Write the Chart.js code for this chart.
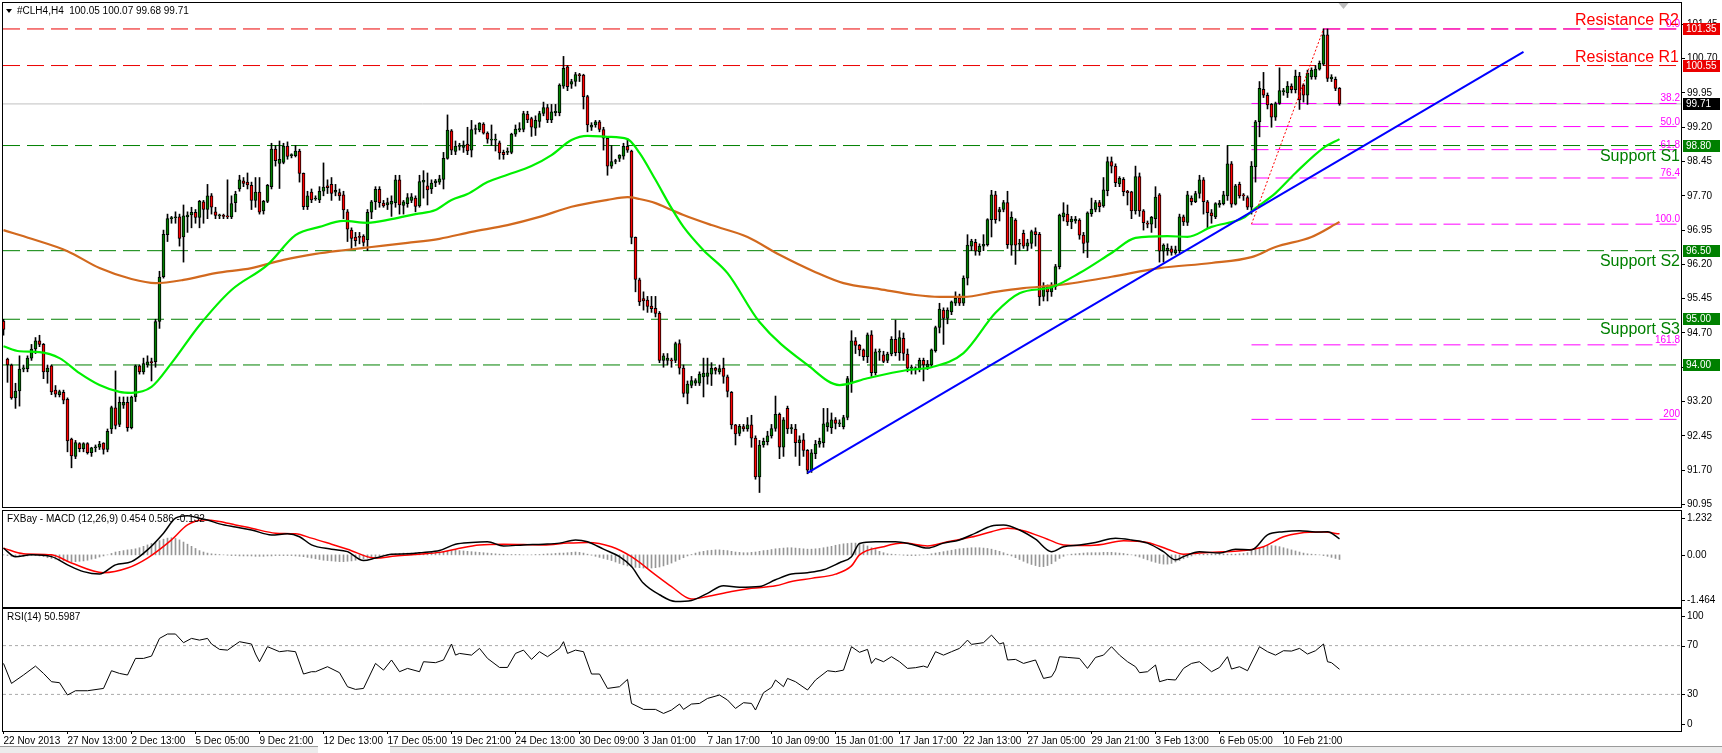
<!DOCTYPE html>
<html lang="en">
<head>
<meta charset="UTF-8">
<title>#CLH4,H4</title>
<script src="https://cdn.jsdelivr.net/npm/chart.js@4.4.0/dist/chart.umd.min.js"></script>
<style>
  html, body { margin: 0; padding: 0; background: #fff; }
  #wrap { position: relative; width: 1722px; height: 753px; overflow: hidden; background: #fff; }
  #wrap canvas { position: absolute; left: 0; }
  .strip { position: absolute; top: 746px; height: 7px; background: #ececec; border-top: 1px solid #9a9a9a; }
</style>
</head>
<body>
<div id="wrap">
  <canvas id="priceChart" style="top:0" width="1722" height="512"></canvas>
  <canvas id="macdChart" style="top:508px" width="1722" height="100"></canvas>
  <canvas id="rsiChart" style="top:608px" width="1722" height="145"></canvas>
  <div class="strip" style="left:0;width:318px"></div>
  <div class="strip" style="left:390px;width:1332px"></div>
</div>
<script>
// ---- H4 candles, bar 0 = 22 Nov 2013 ----
const opens = [
  94.96, 94.13, 94.00, 93.28, 93.43, 93.91, 93.92, 94.15, 94.35, 94.53,
  94.45, 93.85, 93.98, 93.45, 93.35, 93.40, 93.25, 92.38, 92.00, 92.28,
  92.17, 92.28, 92.08, 92.19, 92.20, 92.29, 92.15, 92.60, 93.06, 92.70,
  93.12, 93.18, 92.63, 93.30, 93.98, 93.85, 94.00, 94.07, 94.07, 94.95,
  95.93, 96.85, 97.20, 97.22, 97.24, 96.80, 97.24, 97.28, 97.34, 97.23,
  97.57, 97.40, 97.70, 97.35, 97.26, 97.27, 97.25, 97.24, 97.55, 97.85,
  98.03, 98.00, 97.93, 97.60, 97.78, 97.37, 97.58, 97.90, 98.72, 98.41,
  98.43, 98.79, 98.58, 98.58, 98.68, 98.19, 97.46, 97.78, 97.63, 97.61,
  97.80, 97.92, 97.95, 97.78, 97.77, 97.72, 97.35, 96.95, 96.80, 96.80,
  96.82, 96.74, 97.34, 97.57, 97.84, 97.54, 97.50, 97.52, 97.55, 98.05,
  97.49, 97.53, 97.60, 97.65, 97.48, 98.00, 97.92, 97.85, 97.98, 98.00,
  98.06, 98.52, 99.12, 98.67, 98.78, 98.76, 98.83, 98.70, 99.15, 99.14,
  99.27, 99.07, 98.92, 98.92, 98.86, 98.65, 98.65, 98.65, 99.05, 99.14,
  99.15, 99.49, 99.39, 99.18, 99.33, 99.50, 99.63, 99.36, 99.52, 99.52,
  100.10, 100.52, 100.14, 100.20, 100.34, 100.34, 99.87, 99.20, 99.25, 99.32,
  99.15, 98.96, 98.35, 98.45, 98.52, 98.57, 98.78, 98.68, 96.79, 95.86,
  95.45, 95.42, 95.29, 95.24, 95.13, 94.10, 94.10, 94.10, 94.10, 94.47,
  93.93, 93.38, 93.55, 93.60, 93.60, 93.74, 93.75, 93.80, 93.93, 93.85,
  93.93, 93.74, 93.40, 92.69, 92.50, 92.65, 92.60, 92.69, 92.40, 91.55,
  92.25, 92.32, 92.45, 92.61, 92.92, 92.20, 93.05, 92.60, 92.60, 92.30,
  92.36, 92.13, 91.70, 92.06, 92.27, 92.30, 92.65, 92.63, 92.80, 92.71,
  92.65, 92.85, 93.60, 94.53, 94.43, 94.33, 94.18, 94.66, 93.83, 94.28,
  94.22, 94.10, 94.24, 94.56, 94.27, 94.58, 94.24, 93.93, 93.91, 93.90,
  94.10, 93.95, 94.00, 94.31, 94.82, 95.20, 95.02, 95.16, 95.35, 95.47,
  95.35, 95.90, 96.60, 96.68, 96.48, 96.60, 96.63, 97.18, 97.72, 97.35,
  97.40, 97.55, 96.62, 97.17, 96.64, 96.88, 96.60, 96.66, 96.92, 96.86,
  95.50, 95.70, 95.60, 95.71, 96.15, 97.24, 97.30, 97.13, 97.15, 97.17,
  96.84, 96.68, 97.31, 97.40, 97.55, 97.48, 97.81, 98.45, 98.35, 97.96,
  98.06, 97.80, 97.79, 97.37, 98.12, 97.37, 97.10, 97.08, 97.20, 97.72,
  96.49, 96.50, 96.54, 96.45, 96.50, 97.24, 97.12, 97.65, 97.57, 97.75,
  98.05, 97.57, 97.33, 97.24, 97.50, 97.53, 97.70, 98.40, 97.52, 97.95,
  97.72, 97.66, 97.45, 98.34, 99.32, 100.03, 99.90, 99.70, 99.42, 99.72,
  99.98, 99.95, 100.10, 100.02, 100.32, 100.12, 99.90, 100.30, 100.30, 100.47,
  100.58, 101.22, 100.26, 100.25, 100.05
];
const highs = [
  95.00, 94.15, 94.02, 93.60, 94.20, 94.00, 94.20, 94.45, 94.60, 94.65,
  94.47, 94.00, 94.00, 93.55, 93.45, 93.45, 93.28, 92.40, 92.35, 92.30,
  92.30, 92.30, 92.20, 92.25, 92.33, 92.30, 92.60, 93.10, 93.87, 93.30,
  93.30, 93.30, 93.32, 94.00, 94.00, 94.15, 94.20, 94.15, 95.00, 96.05,
  96.95, 97.30, 97.25, 97.35, 97.30, 97.50, 97.35, 97.45, 97.40, 97.60,
  97.60, 97.95, 97.75, 97.45, 97.30, 97.30, 98.05, 97.70, 97.80, 98.15,
  98.10, 98.20, 98.00, 98.10, 98.10, 97.60, 97.95, 98.85, 98.80, 98.90,
  98.85, 98.88, 98.62, 98.80, 98.72, 98.20, 97.80, 97.85, 97.70, 97.90,
  98.42, 98.05, 98.10, 97.95, 97.85, 97.80, 97.40, 97.00, 96.90, 96.90,
  96.85, 97.40, 97.60, 97.90, 97.90, 97.60, 97.65, 97.70, 98.15, 98.15,
  97.60, 97.75, 97.75, 97.70, 98.15, 98.25, 98.20, 98.05, 98.06, 98.15,
  98.65, 99.47, 99.15, 98.90, 98.85, 98.90, 99.20, 99.35, 99.25, 99.30,
  99.30, 99.10, 99.25, 99.05, 98.90, 98.70, 98.75, 99.07, 99.25, 99.30,
  99.55, 99.55, 99.42, 99.45, 99.55, 99.75, 99.70, 99.70, 99.70, 100.15,
  100.75, 100.55, 100.25, 100.40, 100.38, 100.36, 99.90, 99.30, 99.35, 99.35,
  99.20, 99.00, 98.80, 98.50, 98.60, 98.85, 98.95, 98.70, 96.80, 95.90,
  95.60, 95.50, 95.50, 95.50, 95.17, 94.25, 94.25, 94.15, 94.50, 94.55,
  94.00, 93.65, 93.75, 93.70, 93.85, 94.15, 94.15, 94.05, 93.95, 94.00,
  94.15, 93.78, 93.42, 92.70, 92.70, 92.70, 92.85, 92.90, 92.45, 92.35,
  92.40, 92.55, 92.70, 93.32, 92.95, 92.85, 93.10, 92.70, 92.70, 92.45,
  92.50, 92.15, 92.15, 92.35, 92.40, 93.05, 93.05, 92.95, 92.85, 92.80,
  92.90, 93.75, 94.75, 94.60, 94.45, 94.35, 94.70, 94.75, 94.35, 94.35,
  94.30, 94.28, 94.62, 94.98, 94.75, 94.70, 94.35, 94.00, 93.96, 94.15,
  94.15, 94.10, 94.35, 94.85, 95.35, 95.25, 95.25, 95.40, 95.60, 95.55,
  95.95, 96.85, 96.75, 96.75, 96.65, 96.85, 97.20, 97.82, 97.80, 97.45,
  97.60, 97.80, 97.35, 97.20, 96.75, 96.95, 96.75, 96.95, 97.00, 96.90,
  95.80, 95.75, 95.80, 96.20, 97.30, 97.55, 97.50, 97.25, 97.25, 97.20,
  96.90, 97.35, 97.65, 97.60, 97.60, 98.10, 98.55, 98.55, 98.40, 98.12,
  98.10, 97.82, 97.80, 98.35, 98.20, 97.40, 97.15, 97.25, 97.90, 97.75,
  96.65, 96.65, 96.60, 96.60, 97.30, 97.28, 97.80, 97.70, 97.80, 98.15,
  98.10, 97.60, 97.40, 97.55, 97.60, 97.80, 98.80, 98.45, 97.95, 98.00,
  97.75, 97.70, 98.45, 99.35, 100.20, 100.40, 99.95, 99.72, 99.75, 100.50,
  100.05, 100.20, 100.15, 100.45, 100.40, 100.15, 100.45, 100.50, 100.55, 100.65,
  101.35, 101.35, 100.35, 100.30, 100.07
];
const lows = [
  94.65, 93.62, 93.25, 93.05, 93.10, 93.85, 93.85, 94.10, 94.25, 94.40,
  93.70, 93.60, 93.35, 93.30, 93.30, 93.15, 92.10, 91.75, 91.95, 92.10,
  92.10, 92.05, 92.00, 92.10, 92.15, 92.05, 92.10, 92.50, 92.60, 92.65,
  93.05, 92.55, 92.60, 93.20, 93.80, 93.80, 93.95, 93.65, 93.95, 94.80,
  95.90, 96.70, 97.10, 97.10, 96.60, 96.25, 96.90, 97.00, 97.10, 97.00,
  97.10, 97.20, 97.30, 97.20, 97.20, 97.20, 97.20, 97.20, 97.35, 97.80,
  97.90, 97.85, 97.40, 97.45, 97.30, 97.30, 97.55, 97.85, 98.35, 97.86,
  98.40, 98.50, 98.53, 98.55, 98.00, 97.40, 97.40, 97.55, 97.60, 97.55,
  97.70, 97.75, 97.60, 97.70, 97.60, 97.20, 96.70, 96.53, 96.60, 96.65,
  96.60, 96.50, 97.20, 97.40, 97.45, 97.45, 97.40, 97.25, 97.45, 97.30,
  97.30, 97.45, 97.55, 97.35, 97.45, 97.65, 97.50, 97.75, 97.90, 97.95,
  97.85, 98.50, 98.60, 98.60, 98.70, 98.65, 98.60, 98.55, 99.05, 99.10,
  99.05, 98.85, 98.80, 98.68, 98.50, 98.50, 98.60, 98.62, 99.00, 99.10,
  99.10, 99.30, 99.00, 99.02, 99.20, 99.45, 99.30, 99.30, 99.45, 99.45,
  100.05, 100.00, 100.05, 100.10, 100.20, 99.60, 99.10, 99.13, 99.20, 99.10,
  98.70, 98.15, 98.30, 98.40, 98.45, 98.50, 98.65, 96.65, 95.60, 95.30,
  95.20, 95.15, 95.15, 95.05, 94.05, 93.95, 94.00, 93.95, 94.05, 93.80,
  93.30, 93.15, 93.50, 93.55, 93.55, 93.30, 93.58, 93.55, 93.80, 93.80,
  93.60, 93.30, 92.60, 92.25, 92.45, 92.55, 92.55, 92.20, 91.50, 91.21,
  92.20, 92.25, 92.40, 92.55, 91.95, 92.00, 92.50, 92.50, 92.00, 91.80,
  92.00, 91.62, 91.65, 91.95, 92.20, 92.20, 92.55, 92.50, 92.60, 92.65,
  92.60, 92.80, 93.40, 94.25, 94.20, 94.10, 94.05, 93.75, 93.78, 94.10,
  94.05, 94.05, 94.20, 94.20, 94.10, 94.10, 93.85, 93.80, 93.80, 93.85,
  93.65, 93.90, 93.95, 94.28, 94.70, 94.45, 94.90, 95.10, 95.30, 95.30,
  95.30, 95.75, 96.50, 96.40, 96.40, 96.50, 96.60, 96.80, 97.10, 97.15,
  97.35, 96.55, 96.40, 96.20, 96.50, 96.55, 96.50, 96.55, 96.60, 95.30,
  95.40, 95.40, 95.50, 95.65, 96.10, 97.15, 97.05, 96.98, 97.10, 96.75,
  96.45, 96.35, 97.25, 97.35, 97.35, 97.45, 97.70, 98.20, 97.90, 97.90,
  97.70, 97.50, 97.20, 97.30, 97.25, 96.95, 97.00, 96.90, 97.00, 96.25,
  96.25, 96.40, 96.40, 96.42, 96.45, 97.05, 97.05, 97.50, 97.55, 97.65,
  97.30, 97.00, 97.10, 97.20, 97.45, 97.50, 97.60, 97.45, 97.50, 97.65,
  97.60, 97.40, 97.30, 98.00, 98.99, 99.85, 99.60, 99.20, 99.35, 99.70,
  99.90, 99.85, 99.95, 99.95, 99.59, 99.75, 99.70, 100.25, 100.25, 100.45,
  100.55, 100.20, 100.20, 100.00, 99.68
];
const closes = [
  94.78, 94.00, 93.28, 93.43, 93.91, 93.94, 94.15, 94.35, 94.53, 94.45,
  93.85, 93.93, 93.41, 93.36, 93.42, 93.23, 92.34, 92.01, 92.30, 92.17,
  92.28, 92.08, 92.19, 92.20, 92.27, 92.15, 92.55, 93.07, 92.68, 93.18,
  93.18, 92.63, 93.30, 93.98, 93.85, 94.03, 94.07, 94.05, 94.95, 95.92,
  96.86, 97.20, 97.22, 97.23, 96.77, 97.26, 97.28, 97.34, 97.23, 97.58,
  97.40, 97.70, 97.45, 97.27, 97.28, 97.25, 97.24, 97.53, 97.74, 98.05,
  97.97, 97.94, 97.60, 97.78, 97.34, 97.58, 97.93, 98.72, 98.47, 98.50,
  98.79, 98.56, 98.58, 98.68, 98.19, 97.46, 97.70, 97.61, 97.65, 97.80,
  97.89, 97.88, 97.75, 97.82, 97.70, 97.39, 96.97, 96.77, 96.72, 96.79,
  96.68, 97.34, 97.57, 97.84, 97.55, 97.48, 97.55, 97.58, 98.05, 97.50,
  97.57, 97.66, 97.68, 97.47, 98.01, 98.04, 97.83, 97.98, 98.03, 98.07,
  98.52, 99.14, 98.70, 98.79, 98.78, 98.81, 98.68, 99.15, 99.16, 99.29,
  99.07, 98.94, 98.93, 98.94, 98.64, 98.60, 98.66, 99.05, 99.16, 99.17,
  99.50, 99.36, 99.20, 99.35, 99.50, 99.63, 99.36, 99.54, 99.55, 100.12,
  100.49, 100.09, 100.20, 100.35, 100.33, 99.87, 99.25, 99.25, 99.32, 99.15,
  98.96, 98.35, 98.45, 98.46, 98.59, 98.78, 98.70, 96.79, 95.87, 95.38,
  95.40, 95.28, 95.23, 95.13, 94.10, 94.20, 94.15, 94.09, 94.47, 93.93,
  93.38, 93.58, 93.66, 93.66, 93.80, 93.82, 93.83, 93.93, 93.88, 93.92,
  93.75, 93.42, 92.69, 92.49, 92.66, 92.60, 92.69, 92.40, 91.55, 92.25,
  92.33, 92.45, 92.61, 92.92, 92.20, 92.80, 92.60, 92.63, 92.30, 92.36,
  92.13, 91.70, 92.08, 92.27, 92.33, 92.71, 92.74, 92.80, 92.72, 92.72,
  92.85, 93.70, 94.53, 94.43, 94.33, 94.18, 94.66, 93.83, 94.29, 94.30,
  94.08, 94.24, 94.56, 94.27, 94.60, 94.25, 93.93, 93.94, 93.94, 94.10,
  94.00, 94.02, 94.33, 94.82, 95.22, 95.02, 95.20, 95.38, 95.46, 95.35,
  95.90, 96.62, 96.71, 96.49, 96.60, 96.64, 97.18, 97.72, 97.18, 97.40,
  97.55, 96.63, 97.23, 96.62, 96.66, 96.60, 96.67, 96.92, 96.85, 95.49,
  95.71, 95.60, 95.75, 96.15, 97.28, 97.33, 97.13, 97.19, 97.19, 96.84,
  96.66, 97.33, 97.41, 97.55, 97.46, 97.83, 98.45, 98.35, 97.99, 98.08,
  97.79, 97.77, 97.37, 98.12, 97.37, 97.11, 97.08, 97.23, 97.67, 96.49,
  96.62, 96.55, 96.46, 96.52, 97.24, 97.13, 97.72, 97.57, 97.75, 98.05,
  97.57, 97.33, 97.26, 97.53, 97.54, 97.72, 98.40, 97.52, 97.92, 97.70,
  97.70, 97.45, 98.35, 99.32, 100.05, 99.90, 99.69, 99.42, 99.72, 100.00,
  99.99, 100.10, 100.02, 100.32, 99.80, 99.90, 100.38, 100.45, 100.47, 100.60,
  101.22, 100.27, 100.30, 100.05, 99.71
];

// ---- moving averages (bar index, value) ----
const maFastBars = [0, 4, 9, 14, 19, 24, 29, 32, 37, 42, 49, 57, 66, 73, 79, 85, 91, 97, 103, 108,
  112, 116, 121, 126, 132, 137, 142, 146, 151, 156, 159, 163, 167, 170, 175, 181, 189, 201, 209, 216,
  226, 232, 240, 248, 254, 262, 269, 277, 283, 291, 296, 302, 310, 313, 318, 323, 330, 334];
const maFastVals = [94.41, 94.30, 94.28, 94.15, 93.82, 93.56, 93.41, 93.39, 93.52, 94.04, 94.87, 95.64, 96.19, 96.84, 97.02, 97.15, 97.11, 97.19, 97.30, 97.39,
  97.61, 97.74, 98.00, 98.16, 98.35, 98.59, 98.92, 99.01, 98.99, 98.94, 98.64, 98.05, 97.43, 97.02, 96.51, 96.01, 94.94, 94.00, 93.56, 93.71,
  93.89, 93.95, 94.26, 95.14, 95.57, 95.70, 96.01, 96.45, 96.78, 96.82, 96.80, 97.02, 97.22, 97.43, 97.76, 98.20, 98.75, 98.94];
const maSlowBars = [0, 7, 16, 24, 32, 38, 45, 53, 62, 70, 78, 85, 92, 101, 109, 117, 126, 134, 142, 151,
  156, 159, 163, 167, 170, 177, 186, 194, 203, 210, 219, 228, 234, 240, 248, 255, 264, 277, 289, 302,
  312, 318, 327, 334];
const maSlowVals = [96.95, 96.76, 96.49, 96.12, 95.88, 95.79, 95.86, 96.01, 96.12, 96.30, 96.43, 96.51, 96.58, 96.67, 96.76, 96.91, 97.06, 97.24, 97.46, 97.61,
  97.67, 97.63, 97.54, 97.39, 97.28, 97.06, 96.80, 96.41, 96.03, 95.79, 95.66, 95.53, 95.49, 95.49, 95.60, 95.68, 95.75, 95.93, 96.12, 96.23,
  96.36, 96.58, 96.80, 97.13];

// ---- drawn objects ----
const resistLevels = [101.35, 100.55];
const resistNames = ['Resistance R2', 'Resistance R1'];
const supportLevels = [98.80, 96.50, 95.00, 94.00];
const supportNames = ['Support S1', 'Support S2', 'Support S3', ''];
const fibStartBar = 312;
const fibLevels = [101.35, 99.72, 99.215, 98.71, 98.09, 97.08, 94.44, 92.81];
const fibNames = ['0.0', '38.2', '50.0', '61.8', '76.4', '100.0', '161.8', '200'];
const trendBars = [201, 380];
const trendVals = [91.64, 100.85];
const fibTrendBars = [312, 330];
const fibTrendVals = [97.08, 101.35];

// ---- MACD (12,26,9) ----
const macdBars = [0, 3, 7, 12, 16, 20, 24, 28, 32, 36, 40, 43, 46, 49, 51, 54, 58, 62, 67, 71,
  74, 77, 82, 86, 90, 93, 97, 101, 105, 109, 113, 117, 121, 125, 130, 135, 139, 143, 146, 150,
  154, 157, 160, 164, 168, 172, 176, 180, 184, 189, 193, 197, 201, 205, 209, 212, 214, 218, 223, 227,
  231, 235, 239, 243, 247, 250, 254, 258, 262, 265, 269, 273, 278, 282, 286, 290, 293, 295, 299, 304,
  308, 312, 316, 320, 324, 328, 331, 334];
const macdVals = [0.19, -0.05, 0.0, -0.05, -0.28, -0.47, -0.54, -0.28, -0.19, 0.14, 0.61, 1.03, 1.10, 1.03, 0.98, 0.87, 0.78, 0.70, 0.56, 0.59,
  0.51, 0.28, 0.16, 0.09, -0.16, -0.09, 0.02, 0.03, 0.07, 0.12, 0.30, 0.35, 0.37, 0.25, 0.28, 0.30, 0.33, 0.42, 0.37, 0.16,
  -0.05, -0.33, -0.80, -1.12, -1.31, -1.28, -1.08, -0.87, -0.91, -0.89, -0.70, -0.54, -0.50, -0.42, -0.22, -0.05, 0.32, 0.37, 0.37, 0.30,
  0.19, 0.33, 0.42, 0.61, 0.81, 0.84, 0.70, 0.44, 0.09, 0.23, 0.28, 0.35, 0.47, 0.42, 0.33, 0.09, -0.14, -0.05, 0.09, 0.05,
  0.16, 0.14, 0.56, 0.65, 0.68, 0.64, 0.65, 0.45];
const signalBars = [0, 5, 12, 17, 25, 31, 36, 42, 46, 50, 54, 58, 62, 68, 73, 77, 82, 86, 93, 98,
  104, 109, 113, 119, 125, 135, 141, 146, 152, 157, 163, 167, 172, 176, 182, 187, 193, 197, 202, 208,
  212, 214, 220, 225, 231, 236, 242, 247, 251, 255, 261, 265, 271, 275, 280, 286, 291, 295, 299, 305,
  310, 315, 320, 324, 330, 334];
const signalVals = [0.19, 0.03, 0.0, -0.23, -0.50, -0.37, -0.09, 0.42, 0.84, 0.98, 0.94, 0.84, 0.75, 0.61, 0.59, 0.47, 0.30, 0.16, -0.09, -0.03,
  0.02, 0.07, 0.16, 0.28, 0.30, 0.28, 0.33, 0.35, 0.23, -0.05, -0.56, -0.89, -1.24, -1.17, -1.03, -0.94, -0.87, -0.75, -0.66, -0.54,
  -0.31, 0.0, 0.23, 0.33, 0.25, 0.37, 0.50, 0.65, 0.75, 0.68, 0.44, 0.28, 0.26, 0.30, 0.40, 0.35, 0.16, 0.02, 0.05, 0.09,
  0.12, 0.23, 0.51, 0.61, 0.64, 0.59];
const histVals = [
  0, -0.02, -0.04, -0.05, -0.05, -0.04, -0.03, -0.02, -0.02, -0.03, -0.05, -0.08, -0.1,
  -0.12, -0.14, -0.16, -0.18, -0.19, -0.19, -0.18, -0.17, -0.15, -0.12, -0.1, -0.06, -0.03, 0.0, 0.04,
  0.08, 0.1, 0.12, 0.14, 0.15, 0.17, 0.2, 0.24, 0.28, 0.32, 0.36, 0.4, 0.44, 0.47, 0.48, 0.46, 0.42, 0.36, 0.3,
  0.24, 0.18, 0.12, 0.08, 0.05, 0.03, 0.02, 0.01, 0.0,
  -0.01, -0.02, -0.02, -0.03, -0.03, -0.03, -0.03, -0.04, -0.04, -0.04, -0.03, -0.03, -0.02, -0.02, -0.02, -0.02, -0.02, -0.03, -0.04, -0.05, -0.07,
  -0.09, -0.11, -0.13, -0.15, -0.16, -0.17, -0.18, -0.19, -0.19, -0.18, -0.17, -0.15, -0.13, -0.11, -0.09, -0.07, -0.05,
  -0.03, -0.01, 0.01, 0.02, 0.03, 0.04, 0.05, 0.05, 0.05, 0.06, 0.06, 0.06, 0.07, 0.07, 0.08, 0.08, 0.09, 0.1, 0.12,
  0.13, 0.12, 0.11, 0.1, 0.09, 0.08, 0.07, 0.06, 0.05, 0.04, 0.03, 0.02, 0.02, 0.01, 0.01, 0.01, 0.01, 0.0, 0.0, 0.0, 0.01, 0.01, 0.02, 0.03, 0.03, 0.04, 0.05, 0.05, 0.06, 0.07, 0.08,
  0.07, 0.05, 0.02, -0.01, -0.04, -0.07, -0.1,
  -0.13, -0.16, -0.2, -0.24, -0.28, -0.31, -0.33, -0.35, -0.36, -0.37, -0.37, -0.37, -0.36, -0.34, -0.31, -0.27, -0.23, -0.18, -0.13, -0.08, -0.03, 0.01, 0.05,
  0.08, 0.1, 0.12, 0.13, 0.14, 0.14, 0.13, 0.12, 0.1, 0.08, 0.07, 0.06, 0.06, 0.07, 0.08, 0.1, 0.12, 0.13,
  0.15, 0.17, 0.18, 0.19, 0.2, 0.2, 0.19, 0.18, 0.17, 0.16, 0.16, 0.17, 0.18, 0.2, 0.22, 0.24, 0.27, 0.29, 0.31, 0.32, 0.33, 0.33,
  0.32, 0.29, 0.25, 0.2, 0.15, 0.1, 0.06, 0.03, 0.02,
  0.01, 0.0, -0.01, -0.02, -0.02, -0.02, -0.01, 0.0, 0.01, 0.03,
  0.05, 0.07, 0.09, 0.11, 0.13, 0.15, 0.17, 0.18, 0.19, 0.2, 0.2, 0.2, 0.19, 0.18, 0.16, 0.13, 0.1, 0.06, 0.02,
  -0.03, -0.08, -0.13, -0.18, -0.23, -0.27, -0.3, -0.33, -0.33, -0.3, -0.25, -0.18, -0.1,
  -0.04, 0.0, 0.02, 0.03, 0.04, 0.05, 0.06, 0.06, 0.06, 0.06, 0.07, 0.07, 0.07, 0.06, 0.05, 0.04, 0.02,
  0.0, -0.03, -0.06, -0.1, -0.14, -0.18, -0.21, -0.24, -0.26, -0.26, -0.24, -0.2, -0.16, -0.11, -0.07, -0.03,
  0.0, 0.01, 0.02, 0.02, 0.03, 0.03, 0.03, 0.03, 0.02, 0.02, 0.02, 0.03, 0.04,
  0.06, 0.1, 0.15, 0.2, 0.24, 0.26, 0.26, 0.25, 0.23, 0.2, 0.17, 0.14, 0.11, 0.08,
  0.05, 0.03, 0.02, 0.01, 0.0,
  -0.02, -0.04, -0.07, -0.1, -0.13
];

// ---- RSI(14) ----
const rsiBars = [0, 2, 5, 8, 10, 12, 14, 16, 18, 21, 25, 27, 29, 31, 33, 35, 37, 39, 41, 43,
  45, 47, 49, 51, 52, 54, 56, 59, 62, 63, 64, 66, 69, 71, 73, 75, 77, 78, 81, 84,
  86, 88, 90, 93, 95, 97, 99, 101, 104, 105, 108, 110, 112, 113, 114, 117, 119, 121, 124, 126,
  128, 130, 132, 134, 136, 139, 140, 141, 143, 145, 147, 149, 151, 154, 156, 157, 160, 163, 165, 167,
  169, 170, 172, 174, 176, 179, 181, 183, 185, 187, 188, 190, 192, 193, 195, 196, 198, 201, 203, 206,
  208, 210, 212, 214, 216, 217, 218, 220, 222, 224, 226, 228, 230, 231, 233, 235, 237, 239, 241, 242,
  245, 247, 249, 250, 251, 253, 255, 258, 260, 262, 263, 264, 266, 269, 271, 273, 275, 277, 279, 281,
  283, 284, 286, 288, 289, 291, 293, 295, 297, 299, 302, 304, 306, 307, 309, 311, 314, 316, 318, 320,
  322, 324, 326, 328, 330, 331, 332, 334];
const rsiVals = [55.4, 39.0, 45.9, 53.2, 47.2, 40.4, 39.6, 29.5, 33.0, 33.0, 34.9, 49.4, 47.2, 45.9, 59.5, 59.5, 61.4, 75.9, 79.5, 79.5,
  72.4, 75.9, 74.5, 75.9, 71.3, 66.9, 66.3, 73.2, 71.3, 63.1, 56.8, 69.1, 65.0, 65.8, 65.0, 46.7, 48.6, 48.6, 52.7, 47.8,
  36.3, 34.1, 34.9, 55.4, 49.9, 58.2, 48.6, 51.3, 48.6, 56.8, 56.0, 58.2, 71.3, 62.2, 63.6, 62.2, 67.7, 59.5, 52.1, 52.1,
  63.6, 66.3, 58.7, 65.0, 60.9, 67.7, 73.2, 63.6, 66.3, 65.0, 46.7, 46.7, 34.9, 36.3, 42.3, 22.6, 17.7, 17.7, 14.4, 17.2,
  22.1, 17.7, 22.1, 22.6, 26.7, 29.5, 25.4, 18.5, 23.2, 22.6, 17.2, 31.4, 35.7, 41.8, 36.3, 43.1, 40.4, 33.6, 41.8, 49.4,
  48.6, 49.9, 69.1, 64.5, 66.9, 55.4, 59.5, 56.8, 60.9, 56.8, 51.3, 51.9, 53.2, 52.1, 65.0, 62.2, 65.0, 67.7, 74.5, 71.0,
  72.4, 78.6, 71.3, 72.4, 58.2, 58.7, 55.4, 58.2, 43.1, 44.5, 49.9, 60.9, 60.3, 59.5, 51.3, 60.3, 62.2, 69.1, 62.2, 56.8,
  52.7, 47.8, 48.6, 54.1, 40.4, 42.3, 41.8, 51.3, 55.4, 56.8, 48.6, 52.1, 60.9, 50.8, 52.7, 49.4, 69.1, 65.0, 62.2, 65.8,
  65.5, 67.7, 63.1, 65.8, 71.3, 56.8, 56.0, 50.6];
const rsiLevels = [70, 30];

// ---- axes ----
const priceTicks = [101.45, 100.70, 99.95, 99.20, 98.45, 97.70, 96.95, 96.20, 95.45, 94.70, 93.95, 93.20, 92.45, 91.70, 90.95];
const priceMin = 90.893, priceMax = 101.918;
const macdMin = -1.464, macdMax = 1.232;
const tickBars = [0, 16, 32, 48, 64, 80, 96, 112, 128, 144, 160, 176, 192, 208, 224, 240, 256, 272, 288, 304, 320];
const tickLabels = ['22 Nov 2013', '27 Nov 13:00', '2 Dec 13:00', '5 Dec 05:00', '9 Dec 21:00', '12 Dec 13:00', '17 Dec 05:00',
  '19 Dec 21:00', '24 Dec 13:00', '30 Dec 09:00', '3 Jan 01:00', '7 Jan 17:00', '10 Jan 09:00', '15 Jan 01:00',
  '17 Jan 17:00', '22 Jan 13:00', '27 Jan 05:00', '29 Jan 21:00', '3 Feb 13:00', '6 Feb 05:00', '10 Feb 21:00'];

const xMin = -0.125, xMax = 419.375;
const FONT = '"Liberation Sans", Arial, sans-serif';
const UP = 'rgb(0,128,0)', DOWN = 'rgb(255,0,0)';
const RES = 'rgb(235,0,0)', SUP = 'rgb(0,128,0)', FIB = 'rgb(255,0,255)';

Chart.defaults.font.family = FONT;
Chart.defaults.font.size = 10;
Chart.defaults.color = '#000';

function hLine(v, x0, color, dash, order) {
  return { type: 'line', data: [{ x: x0, y: v }, { x: xMax, y: v }], borderColor: color, borderWidth: 1,
    borderDash: dash, pointRadius: 0, order: order };
}
function pairLine(bars, vals, color, width, extra) {
  return Object.assign({ type: 'line', data: bars.map((b, i) => ({ x: b, y: vals[i] })), borderColor: color,
    borderWidth: width, pointRadius: 0 }, extra || {});
}
function xScale(display) {
  return { type: 'linear', min: xMin, max: xMax, offset: false, display: display };
}
function sideAxis(min, max) {
  return { type: 'linear', position: 'right', min: min, max: max, ticks: { display: false }, grid: { display: false },
    border: { display: false }, afterFit: s => { s.width = 41; s.paddingTop = 0; s.paddingBottom = 0; } };
}

// frame, title and axis captions of each window
const panelPlugin = {
  id: 'panel',
  afterDraw(chart, args, opts) {
    const { ctx, chartArea: a } = chart;
    const y = chart.scales.y;
    ctx.save();
    ctx.strokeStyle = '#000';
    ctx.lineWidth = 1;
    ctx.strokeRect(a.left - 0.5, a.top - 0.5, a.right - a.left + 1, a.bottom - a.top + 1);
    ctx.fillStyle = '#000';
    ctx.font = '10px ' + FONT;
    ctx.textBaseline = 'middle';
    ctx.textAlign = 'left';
    if (opts.title) ctx.fillText(opts.title, a.left + opts.titleX, a.top + 8);
    (opts.axisValues || []).forEach((v, i) => {
      let py = y.getPixelForValue(v);
      py = Math.min(Math.max(py, a.top + 7), a.bottom - 7);
      ctx.fillRect(a.right, Math.round(py), 4, 1);
      ctx.fillText(opts.axisLabels[i], a.right + 6, py);
    });
    ctx.restore();
  }
};

// captions of levels, fibo numbers and price tags
const levelPlugin = {
  id: 'levels',
  afterDraw(chart) {
    const { ctx, chartArea: a, scales: { x, y } } = chart;
    ctx.save();
    // symbol header
    ctx.fillStyle = '#000';
    ctx.beginPath(); ctx.moveTo(6, 9); ctx.lineTo(12, 9); ctx.lineTo(9, 13); ctx.closePath(); ctx.fill();
    // chart shift marker
    const sx = x.getPixelForValue(opens.length);
    ctx.fillStyle = 'rgb(190,190,190)';
    ctx.beginPath(); ctx.moveTo(sx - 5, a.top); ctx.lineTo(sx + 5, a.top); ctx.lineTo(sx, a.top + 6); ctx.closePath(); ctx.fill();

    ctx.textAlign = 'right';
    ctx.font = '10px ' + FONT;
    ctx.fillStyle = FIB;
    ctx.textBaseline = 'alphabetic';
    fibLevels.forEach((v, i) => ctx.fillText(fibNames[i], a.right - 1, y.getPixelForValue(v) - 2));

    ctx.font = '16px ' + FONT;
    ctx.fillStyle = 'rgb(255,0,0)';
    resistLevels.forEach((v, i) => ctx.fillText(resistNames[i], a.right - 2, y.getPixelForValue(v) - 4));
    ctx.fillStyle = 'rgb(0,128,0)';
    supportLevels.forEach((v, i) => ctx.fillText(supportNames[i], a.right - 1, y.getPixelForValue(v) + 15));

    // price tags on the axis
    const tags = resistLevels.map(v => [v, 'rgb(235,0,0)'])
      .concat([[closes[closes.length - 1], '#000']])
      .concat(supportLevels.map(v => [v, 'rgb(0,128,0)']));
    ctx.font = '10px ' + FONT;
    ctx.textAlign = 'left';
    ctx.textBaseline = 'middle';
    tags.forEach(([v, c]) => {
      const py = Math.round(y.getPixelForValue(v));
      ctx.fillStyle = c;
      ctx.fillRect(a.right + 2, py - 6, 37, 12);
      ctx.fillStyle = '#fff';
      ctx.fillText(v.toFixed(2), a.right + 5, py);
    });
    ctx.restore();
  }
};

const idx = opens.map((o, i) => i);
const priceDatasets = [];
resistLevels.forEach(v => priceDatasets.push(hLine(v, xMin, RES, [17, 7], 10)));
supportLevels.forEach(v => priceDatasets.push(hLine(v, xMin, SUP, [17, 7], 10)));
priceDatasets.push(hLine(closes[closes.length - 1], xMin, 'rgb(192,192,192)', [], 11));
fibLevels.forEach(v => priceDatasets.push(hLine(v, fibStartBar, FIB, [17, 7], 9)));
priceDatasets.push({
  type: 'bar', data: idx.map(i => ({ x: i, y: [lows[i], highs[i]] })), backgroundColor: '#000',
  barThickness: 1, grouped: false, order: 7
});
priceDatasets.push({
  type: 'bar', data: idx.map(i => ({ x: i, y: [opens[i], closes[i]] })),
  backgroundColor: idx.map(i => closes[i] >= opens[i] ? UP : DOWN),
  borderColor: '#000', borderWidth: 1, borderSkipped: false, barThickness: 3, minBarLength: 1,
  grouped: false, order: 6
});
priceDatasets.push(pairLine(maSlowBars, maSlowVals, 'rgb(210,105,30)', 2.2, { order: 4, cubicInterpolationMode: 'monotone' }));
priceDatasets.push(pairLine(maFastBars, maFastVals, 'rgb(0,240,0)', 2.2, { order: 3, cubicInterpolationMode: 'monotone' }));
priceDatasets.push(pairLine(trendBars, trendVals, 'rgb(0,0,255)', 2, { order: 2 }));
priceDatasets.push(pairLine(fibTrendBars, fibTrendVals, 'rgb(255,0,0)', 1, { order: 1, borderDash: [2, 2] }));

new Chart(document.getElementById('priceChart'), {
  type: 'bar',
  data: { datasets: priceDatasets },
  plugins: [panelPlugin, levelPlugin],
  options: {
    responsive: false, animation: false, events: [],
    layout: { padding: { left: 3, top: 3, right: 0, bottom: 5 } },
    plugins: {
      legend: { display: false }, tooltip: { enabled: false },
      panel: { title: '#CLH4,H4  100.05 100.07 99.68 99.71', titleX: 14 }
    },
    scales: {
      x: xScale(false),
      y: {
        type: 'linear', position: 'right', min: priceMin, max: priceMax,
        afterBuildTicks: s => { s.ticks = priceTicks.map(v => ({ value: v })); },
        afterFit: s => { s.width = 41; s.paddingTop = 0; s.paddingBottom = 0; },
        ticks: { color: '#000', padding: 2, font: { size: 10 }, callback: v => v.toFixed(2) },
        grid: { drawOnChartArea: false, drawTicks: true, tickLength: 4, color: '#000' },
        border: { display: false }
      }
    }
  }
});

new Chart(document.getElementById('macdChart'), {
  type: 'bar',
  data: {
    datasets: [
      { type: 'bar', data: histVals.map((v, i) => ({ x: i, y: v })), backgroundColor: 'rgb(150,150,150)',
        barThickness: 1, grouped: false, order: 3 },
      pairLine(signalBars, signalVals, 'rgb(255,0,0)', 1.5, { order: 2, cubicInterpolationMode: 'monotone' }),
      pairLine(macdBars, macdVals, '#000', 1.5, { order: 1, cubicInterpolationMode: 'monotone' })
    ]
  },
  plugins: [panelPlugin],
  options: {
    responsive: false, animation: false, events: [],
    layout: { padding: { left: 3, top: 3, right: 0, bottom: 1 } },
    plugins: {
      legend: { display: false }, tooltip: { enabled: false },
      panel: { title: 'FXBay - MACD (12,26,9) 0.454 0.586 -0.132', titleX: 4,
        axisValues: [macdMax, 0, macdMin], axisLabels: ['1.232', '0.00', '-1.464'] }
    },
    scales: { x: xScale(false), y: sideAxis(macdMin, macdMax) }
  }
});

const rsiDatasets = rsiLevels.map(v => hLine(v, xMin, 'rgb(170,170,170)', [3, 3], 5));
rsiDatasets.push(pairLine(rsiBars, rsiVals, '#000', 1, { order: 1 }));

new Chart(document.getElementById('rsiChart'), {
  type: 'line',
  data: { datasets: rsiDatasets },
  plugins: [panelPlugin],
  options: {
    responsive: false, animation: false, events: [],
    layout: { padding: { left: 3, top: 1, right: 0, bottom: 0 } },
    plugins: {
      legend: { display: false }, tooltip: { enabled: false },
      panel: { title: 'RSI(14) 50.5987', titleX: 4, axisValues: [100, 70, 30, 0], axisLabels: ['100', '70', '30', '0'] }
    },
    scales: {
      x: {
        type: 'linear', min: xMin, max: xMax, offset: false,
        afterBuildTicks: s => { s.ticks = tickBars.map(v => ({ value: v })); },
        afterFit: s => { s.height = 22; s.paddingLeft = 0; s.paddingRight = 0; },
        ticks: { align: 'start', autoSkip: false, maxRotation: 0, minRotation: 0, padding: 1, color: '#000',
          font: { size: 10 }, callback: (v, i) => tickLabels[i] },
        grid: { drawOnChartArea: false, drawTicks: true, tickLength: 3, color: '#000' },
        border: { display: false }
      },
      y: sideAxis(0, 100)
    }
  }
});
</script>
</body>
</html>
